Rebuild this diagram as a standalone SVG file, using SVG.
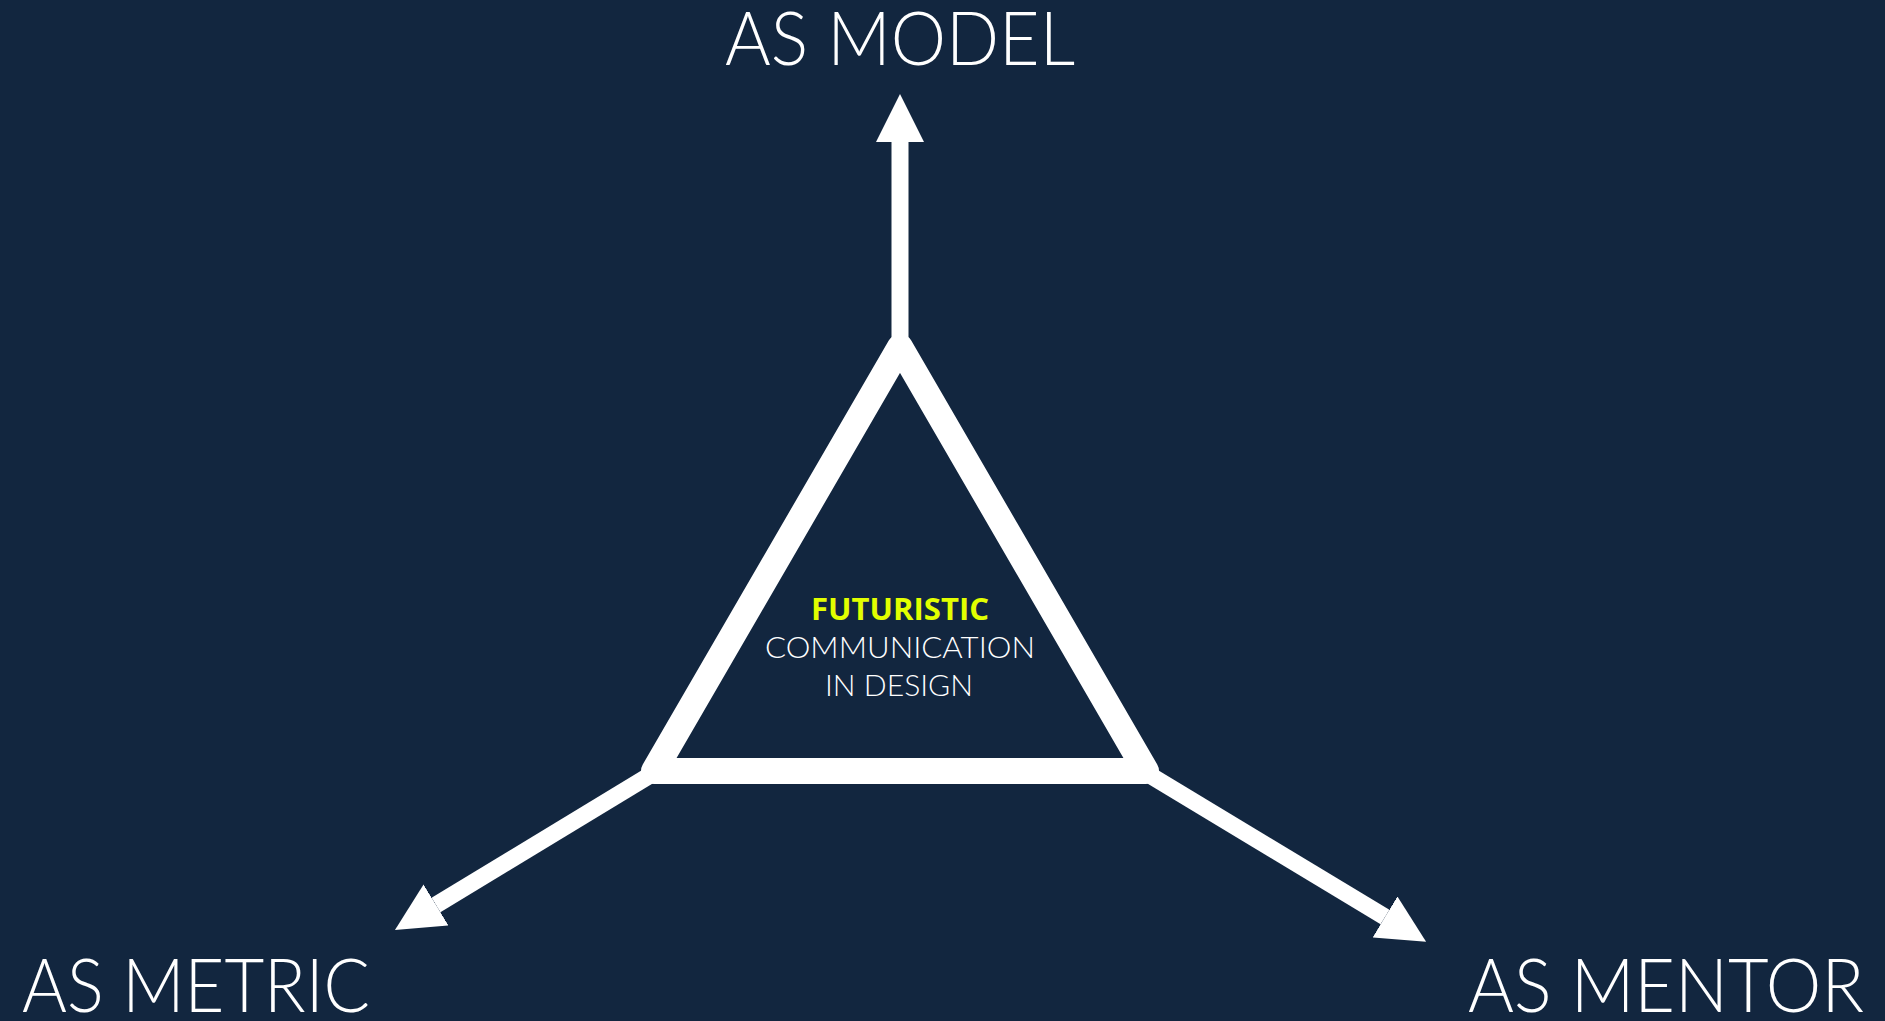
<svg xmlns="http://www.w3.org/2000/svg" width="1885" height="1021" viewBox="0 0 1885 1021">
  <style>
    .label { font-family: Lato, "Liberation Sans", sans-serif; font-weight: 300; fill: #ffffff; }
    .big { font-size: 75px; }
    .small { font-size: 30px; text-anchor: middle; }
    .accent { font-family: "Open Sans", "Liberation Sans", sans-serif; font-weight: 700; font-size: 30px; fill: #e2ff00; text-anchor: middle; }
    .shaft { stroke: #ffffff; stroke-width: 17; fill: none; }
    .tri { stroke: #ffffff; stroke-width: 26; fill: none; stroke-linejoin: round; }
  </style>
  <defs>
    <marker id="head" markerUnits="userSpaceOnUse" markerWidth="48" markerHeight="48" refX="0" refY="24" orient="auto" viewBox="0 0 48 48">
      <path d="M0,0 L48,24 L0,48 Z" fill="#ffffff"/>
    </marker>
  </defs>
  <rect x="0" y="0" width="1885" height="1021" fill="#12263f"/>

  <g id="connectors">
    <line class="shaft" x1="900" y1="345" x2="900" y2="142" marker-end="url(#head)"/>
    <line class="shaft" x1="652" y1="774" x2="436" y2="905" marker-end="url(#head)"/>
    <line class="shaft" x1="1148" y1="774" x2="1385" y2="917" marker-end="url(#head)"/>
  </g>

  <g id="node-center">
    <polygon class="tri" points="900,347 1146,771 654,771"/>
    <text class="accent" x="900" y="620" textLength="178" lengthAdjust="spacingAndGlyphs">FUTURISTIC</text>
    <text class="label small" x="900" y="658" textLength="270" lengthAdjust="spacingAndGlyphs">COMMUNICATION</text>
    <text class="label small" x="899" y="696" textLength="148" lengthAdjust="spacingAndGlyphs">IN DESIGN</text>
  </g>

  <g id="node-model">
    <text class="label big" x="725" y="65" textLength="350" lengthAdjust="spacingAndGlyphs">AS MODEL</text>
  </g>
  <g id="node-metric">
    <text class="label big" x="22" y="1012" textLength="348" lengthAdjust="spacingAndGlyphs">AS METRIC</text>
  </g>
  <g id="node-mentor">
    <text class="label big" x="1468" y="1012" textLength="396" lengthAdjust="spacingAndGlyphs">AS MENTOR</text>
  </g>
</svg>
